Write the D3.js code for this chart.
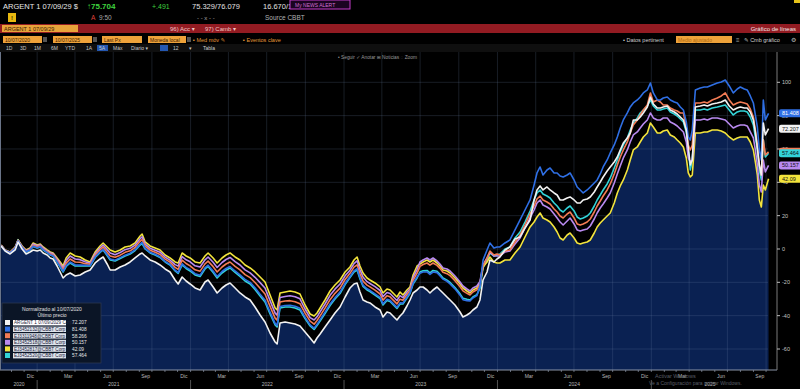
<!DOCTYPE html>
<html>
<head>
<meta charset="utf-8">
<script src="https://cdn.jsdelivr.net/npm/d3@7.9.0/dist/d3.min.js"></script>
<style>
  html, body { margin: 0; padding: 0; background: #000; }
  svg { display: block; font-family: "Liberation Sans", "DejaVu Sans", sans-serif; }
</style>
</head>
<body>
<svg id="chart" width="800" height="389"></svg>
<script>
// dates as decimal years (Oct 2020 -> Oct 2025)
const dates = [
  2020.766,2020.792,2020.824,2020.857,2020.876,2020.902,2020.928,2020.954,2020.974,2021.000,
  2021.020,2021.039,2021.065,2021.085,2021.104,2021.130,2021.150,2021.169,2021.189,2021.215,
  2021.248,2021.280,2021.313,2021.345,2021.378,2021.410,2021.430,2021.456,2021.476,2021.508,
  2021.541,2021.573,2021.606,2021.638,2021.671,2021.684,2021.704,2021.736,2021.769,2021.801,
  2021.834,2021.866,2021.899,2021.919,2021.945,2021.971,2021.997,2022.029,2022.062,2022.094,
  2022.114,2022.147,2022.173,2022.205,2022.231,2022.257,2022.290,2022.322,2022.355,2022.388,
  2022.420,2022.453,2022.485,2022.518,2022.551,2022.564,2022.583,2022.616,2022.648,2022.681,
  2022.713,2022.746,2022.779,2022.805,2022.824,2022.844,2022.876,2022.909,2022.941,2022.974,
  2023.007,2023.039,2023.065,2023.085,2023.104,2023.124,2023.150,2023.169,2023.202,2023.235,
  2023.254,2023.280,2023.300,2023.332,2023.345,2023.365,2023.384,2023.410,2023.430,2023.450,
  2023.476,2023.495,2023.515,2023.541,2023.560,2023.580,2023.606,2023.625,2023.645,2023.671,
  2023.691,2023.723,2023.756,2023.775,2023.801,2023.821,2023.840,2023.866,2023.886,2023.906,
  2023.932,2023.951,2023.977,2023.997,2024.016,2024.049,2024.081,2024.114,2024.147,2024.179,
  2024.212,2024.238,2024.257,2024.277,2024.296,2024.322,2024.342,2024.368,2024.388,2024.407,
  2024.427,2024.453,2024.472,2024.498,2024.518,2024.538,2024.557,2024.583,2024.603,2024.629,
  2024.648,2024.668,2024.687,2024.713,2024.733,2024.759,2024.779,2024.798,2024.818,2024.844,
  2024.863,2024.883,2024.909,2024.928,2024.948,2024.974,2024.994,2025.013,2025.039,2025.059,
  2025.078,2025.104,2025.124,2025.150,2025.169,2025.189,2025.209,2025.228,2025.241,2025.254,
  2025.267,2025.287,2025.319,2025.345,2025.365,2025.397,2025.430,2025.456,2025.482,2025.508,
  2025.534,2025.560,2025.580,2025.606,2025.625,2025.645,2025.665,2025.678,2025.691,2025.704,
  2025.717,2025.730,2025.743,2025.764
];

// normalized performance (%) per bond
const argent29 = [
  1.8,-1.2,-3.0,-0.6,4.2,0.0,-3.0,-1.8,-0.6,-1.2,
  -0.6,-2.4,-3.6,-5.4,-6.0,-10.2,-13.8,-17.4,-15.6,-14.4,
  -16.2,-15.6,-13.8,-12.6,-8.4,-6.0,-4.8,-9.0,-12.6,-12.6,
  -10.8,-9.6,-7.8,-5.4,-3.0,-2.4,-4.2,-6.6,-7.8,-9.6,
  -12.0,-13.8,-18.6,-21.0,-16.8,-19.2,-21.0,-23.4,-24.6,-19.8,
  -18.6,-22.8,-26.4,-23.4,-21.6,-20.4,-23.4,-26.4,-28.8,-30.6,
  -34.8,-39.6,-43.8,-50.4,-55.8,-57.0,-44.4,-43.8,-44.4,-45.0,
  -46.2,-49.8,-53.4,-56.4,-53.4,-51.0,-46.8,-42.6,-38.4,-34.8,
  -28.8,-23.4,-21.0,-20.4,-25.8,-30.6,-31.8,-32.4,-34.8,-36.6,
  -40.8,-37.8,-38.4,-41.4,-42.6,-40.2,-38.4,-34.2,-30.6,-26.4,
  -24.6,-22.8,-22.8,-24.6,-26.4,-24.6,-22.8,-24.6,-26.4,-28.8,
  -30.6,-33.6,-37.8,-40.8,-39.6,-38.4,-36.6,-34.8,-30.6,-18.6,
  -13.8,-6.6,-7.8,-6.0,-4.8,-0.6,1.2,6.0,7.2,12.6,
  17.4,29.4,35.4,37.8,35.4,37.2,35.4,33.6,32.4,29.4,
  29.4,30.6,31.2,29.4,27.6,27.6,29.4,30.0,31.2,34.2,
  37.2,40.2,43.2,46.8,49.2,52.2,55.2,59.4,63.6,66.6,
  69.6,77.4,77.4,79.2,81.6,85.2,91.2,87.0,84.6,84.6,
  85.2,85.8,83.4,82.2,81.0,79.2,77.4,71.4,60.6,50.4,
  53.4,85.2,85.8,86.4,85.8,87.0,87.6,88.2,89.4,85.8,
  83.4,84.6,85.2,84.6,84.6,82.2,77.4,70.2,60.6,50.4,
  44.4,75.6,68.4,72.207
];
const bondBlue = [
  2.0,-0.9,-2.3,0.4,4.8,1.0,-1.7,-0.5,1.7,0.8,
  1.4,-0.4,-2.0,-3.4,-4.0,-7.6,-10.5,-13.4,-10.0,-7.8,
  -9.6,-9.7,-9.8,-10.0,-4.8,-1.7,-0.2,-3.4,-6.0,-6.7,
  -5.2,-3.7,-2.5,-0.5,2.9,3.9,0.4,-2.0,-3.2,-4.7,
  -7.4,-9.2,-12.7,-14.1,-8.9,-11.0,-12.4,-14.8,-15.7,-11.2,
  -9.7,-13.2,-16.5,-13.5,-11.7,-10.5,-13.2,-15.5,-18.2,-20.0,
  -23.3,-27.1,-30.6,-37.9,-44.6,-45.8,-34.5,-33.9,-33.8,-34.4,
  -35.6,-40.9,-45.5,-47.5,-45.2,-42.4,-37.9,-33.0,-29.2,-25.9,
  -20.6,-16.5,-13.1,-11.8,-17.2,-21.7,-23.9,-24.8,-26.9,-29.0,
  -32.9,-30.2,-30.8,-33.8,-35.0,-32.3,-32.5,-28.9,-26.3,-20.5,
  -16.7,-14.5,-13.8,-13.8,-15.2,-13.8,-14.2,-16.0,-18.1,-19.4,
  -20.9,-23.9,-27.7,-30.4,-31.0,-31.2,-29.4,-28.0,-22.0,-6.6,
  -0.6,3.6,0.6,1.2,1.2,3.6,5.4,11.4,17.4,23.4,
  29.4,38.4,45.6,49.2,44.4,47.4,48.6,45.6,45.6,43.8,
  43.2,44.4,45.6,41.4,37.2,35.4,33.6,35.4,37.2,39.6,
  41.4,45.0,49.2,53.4,57.6,62.4,67.2,72.6,77.4,81.6,
  85.2,87.6,89.4,91.2,93.6,95.4,99.6,93.6,89.4,89.4,
  90.6,91.2,89.4,88.2,87.6,85.2,83.4,76.2,67.2,65.4,
  71.4,95.4,96.6,97.2,97.2,98.4,99.6,100.2,101.4,97.8,
  93.6,96.0,97.2,96.0,95.4,91.8,87.6,80.4,73.2,59.4,
  53.4,89.4,77.4,81.408
];
const bondOrange = [
  2.2,-0.8,-2.2,0.7,5.0,1.3,-1.3,-0.1,2.3,1.3,
  1.9,0.1,-1.5,-2.9,-3.5,-6.8,-9.6,-12.4,-8.5,-6.0,
  -7.8,-8.0,-8.8,-9.2,-3.8,-0.5,1.1,-1.9,-4.2,-5.0,
  -3.7,-2.0,-1.1,0.9,4.6,5.6,1.7,-0.7,-1.9,-3.3,
  -6.1,-7.9,-11.0,-12.2,-6.7,-8.7,-10.1,-12.5,-13.3,-8.9,
  -7.3,-10.6,-13.8,-10.8,-9.0,-7.8,-10.4,-12.5,-15.4,-17.2,
  -20.1,-23.6,-27.0,-34.4,-41.5,-42.7,-31.8,-31.2,-31.0,-31.6,
  -32.8,-38.5,-43.3,-45.1,-42.9,-40.1,-35.5,-30.4,-26.6,-23.5,
  -18.3,-14.6,-10.9,-9.5,-14.9,-19.3,-21.7,-22.7,-24.7,-27.0,
  -30.7,-28.1,-28.7,-31.7,-32.9,-30.1,-30.8,-27.5,-25.1,-18.8,
  -14.5,-10.4,-9.3,-8.4,-9.7,-8.4,-9.8,-11.6,-14.0,-14.8,
  -16.0,-19.0,-22.7,-25.1,-26.6,-27.6,-25.8,-24.5,-21.4,-10.2,
  -5.4,-1.2,-3.6,-3.0,-3.6,-1.2,-0.6,4.2,8.4,14.4,
  21.0,25.8,30.0,31.8,29.4,28.2,27.0,24.0,22.2,19.8,
  18.6,21.0,22.2,18.6,15.0,14.4,15.0,16.2,18.0,22.2,
  25.8,28.8,31.8,35.4,39.0,45.0,50.4,55.2,59.4,64.2,
  69.6,74.4,77.4,80.4,83.4,86.4,93.6,88.2,89.4,88.2,
  86.4,86.4,84.6,83.4,82.8,81.6,81.6,72.6,62.4,59.4,
  62.4,87.6,87.6,88.2,87.6,89.4,90.6,91.8,93.6,89.4,
  86.4,87.6,88.2,87.6,87.0,84.0,79.2,71.4,62.4,50.4,
  44.4,65.4,56.4,58.266
];
const bondLilac = [
  2.3,-0.7,-2.0,0.9,5.2,1.5,-1.0,0.2,3.0,1.9,
  2.5,0.7,-1.1,-2.3,-2.9,-6.1,-8.7,-11.3,-6.9,-4.2,
  -6.0,-6.4,-7.7,-8.5,-2.8,0.6,2.3,-0.3,-2.4,-3.4,
  -2.1,-0.4,0.4,2.3,6.2,7.3,2.9,0.5,-0.7,-1.9,
  -4.9,-6.7,-9.4,-10.3,-4.6,-6.5,-7.7,-10.1,-10.8,-6.5,
  -4.8,-8.0,-11.1,-8.1,-6.3,-5.1,-7.6,-9.6,-12.5,-14.3,
  -17.0,-20.2,-23.4,-31.0,-38.5,-39.7,-29.1,-28.5,-28.1,-28.7,
  -29.9,-36.0,-41.2,-42.6,-40.7,-37.7,-33.0,-27.8,-24.1,-21.0,
  -16.1,-12.7,-8.8,-7.1,-12.5,-16.8,-19.6,-20.7,-22.6,-24.9,
  -28.6,-26.1,-26.7,-29.7,-30.9,-28.0,-29.2,-26.0,-24.0,-17.2,
  -12.4,-7.8,-6.6,-5.4,-6.6,-5.4,-7.2,-9.0,-11.4,-12.0,
  -13.2,-16.2,-19.8,-22.2,-24.0,-25.2,-23.4,-22.2,-19.4,-9.6,
  -5.4,-1.8,-4.2,-4.2,-4.2,-1.8,-1.2,3.0,6.6,12.6,
  18.6,23.4,27.6,29.4,26.4,25.2,24.0,21.0,18.6,16.2,
  14.4,16.8,18.6,15.0,11.4,10.8,11.4,12.0,13.8,18.0,
  21.6,24.6,27.0,30.6,33.6,39.6,45.0,49.8,54.6,59.4,
  64.2,68.4,70.2,72.6,75.0,77.4,81.6,78.6,77.4,77.4,
  78.6,78.6,76.2,75.0,73.8,72.0,70.2,64.2,54.6,52.2,
  53.4,77.4,77.4,78.0,77.4,78.6,78.6,78.0,77.4,75.0,
  72.6,73.8,74.4,74.4,73.8,70.2,66.6,59.4,50.4,38.4,
  34.2,53.4,46.2,50.157
];
const bondYellow = [
  2.4,-0.6,-1.8,1.2,5.4,1.8,-0.6,0.6,3.6,2.4,
  3.0,1.2,-0.6,-1.8,-2.4,-5.4,-7.8,-10.2,-5.4,-2.4,
  -4.2,-4.8,-6.6,-7.8,-1.8,1.8,3.6,1.2,-0.6,-1.8,
  -0.6,1.2,1.8,3.6,7.8,9.0,4.2,1.8,0.6,-0.6,
  -3.6,-5.4,-7.8,-8.4,-2.4,-4.2,-5.4,-7.8,-8.4,-4.2,
  -2.4,-5.4,-8.4,-5.4,-3.6,-2.4,-4.8,-6.6,-9.6,-11.4,
  -13.8,-16.8,-19.8,-27.6,-35.4,-36.6,-26.4,-25.8,-25.2,-25.8,
  -27.0,-33.6,-39.0,-40.2,-38.4,-35.4,-30.6,-25.2,-21.6,-18.6,
  -13.8,-10.8,-6.6,-4.8,-10.2,-14.4,-17.4,-18.6,-20.4,-22.8,
  -26.4,-24.0,-24.6,-27.6,-28.8,-25.8,-27.6,-24.6,-22.8,-15.6,
  -10.2,-9.0,-7.8,-6.6,-7.8,-6.6,-8.4,-10.2,-12.6,-13.2,
  -14.4,-17.4,-21.0,-23.4,-25.2,-26.4,-24.6,-23.4,-20.4,-10.8,
  -7.8,-4.8,-7.8,-8.4,-8.4,-6.6,-6.6,-2.4,1.2,7.2,
  13.2,16.2,19.2,21.6,18.6,17.4,16.2,13.2,10.2,6.6,
  5.4,8.4,9.6,6.6,3.6,3.0,3.6,4.2,5.4,9.6,
  13.2,15.6,17.4,19.8,21.6,27.6,33.6,37.8,41.4,47.4,
  53.4,59.4,61.2,64.2,67.2,69.6,75.6,73.2,69.6,69.6,
  70.8,71.4,68.4,67.2,65.4,63.6,61.2,54.6,45.6,43.2,
  44.4,69.6,69.6,70.2,70.2,71.4,71.4,70.8,69.6,67.2,
  65.4,66.6,67.2,67.2,67.2,64.2,59.4,52.2,44.4,29.4,
  25.2,38.4,35.4,42.09
];
const bondCyan = [
  2.1,-0.9,-2.4,0.3,5.6,0.9,-1.8,-0.6,1.5,0.6,
  1.2,-0.6,-2.1,-3.6,-4.2,-7.8,-10.8,-13.8,-10.5,-8.4,
  -10.2,-10.2,-10.2,-10.2,-5.1,-2.1,-0.6,-3.9,-6.6,-7.2,
  -5.7,-4.2,-3.0,-0.9,2.4,3.3,0.0,-2.4,-3.6,-5.1,
  -7.8,-9.6,-13.2,-14.7,-9.6,-11.7,-13.2,-15.6,-16.5,-12.0,
  -10.5,-14.1,-17.4,-14.4,-12.6,-11.4,-14.1,-16.5,-19.2,-21.0,
  -24.3,-28.2,-31.8,-39.0,-45.6,-46.8,-35.4,-34.8,-34.8,-35.4,
  -36.6,-41.7,-46.2,-48.3,-45.9,-43.2,-38.7,-33.9,-30.0,-26.7,
  -21.3,-17.1,-13.8,-12.6,-18.0,-22.5,-24.6,-25.5,-27.6,-29.7,
  -33.6,-30.9,-31.5,-34.5,-35.7,-33.0,-33.0,-29.4,-26.7,-21.0,
  -17.4,-13.8,-13.1,-12.9,-14.3,-12.9,-13.4,-15.2,-17.4,-18.7,
  -20.1,-23.1,-26.9,-29.5,-30.2,-30.6,-28.8,-27.4,-23.5,-11.4,
  -6.6,-2.4,-4.2,-3.6,-3.0,0.0,1.2,6.6,10.2,16.2,
  22.8,29.4,33.6,35.4,33.0,31.8,30.6,27.6,25.8,23.4,
  22.2,24.6,25.8,22.8,19.2,18.0,18.6,19.8,21.6,25.8,
  29.4,32.4,35.4,39.0,42.6,48.6,53.4,58.2,62.4,66.6,
  71.4,75.6,78.6,81.6,83.4,85.8,89.4,85.8,83.4,83.4,
  84.0,84.6,82.2,81.0,79.8,78.0,76.2,70.2,59.4,47.4,
  53.4,83.4,83.4,84.0,83.4,84.6,85.2,85.8,86.4,83.4,
  80.4,82.2,82.8,82.8,82.2,79.2,74.4,67.2,59.4,47.4,
  41.4,65.4,55.2,57.464
];

// legend rows (same order as the Bloomberg legend)
const seriesNames = [
  "ARGENT 1 07/09/2029 Corp",
  "EJ3452132@CBBT Corp",
  "EJ3311948@CBBT Corp",
  "EJ3452518@CBBT Corp",
  "EJ3452817@CBBT Corp",
  "EJ3452520@CBBT Corp"
];
const lastLabels = ["72.207", "81.408", "58.266", "50.157", "42.09", "57.464"];
const seriesColors = ["#f2f2f2", "#2f6fe4", "#f47c55", "#b98af0", "#f3e43c", "#33d4d8"];
const seriesValues = [argent29, bondBlue, bondOrange, bondLilac, bondYellow, bondCyan];

const yTicks = [-60, -40, -20, 0, 20, 40, 60, 80, 100];
const monthNames = ["Ene","Feb","Mar","Abr","May","Jun","Jul","Ago","Sep","Oct","Nov","Dic"];

function yearToDate(t) {
  const yr = Math.floor(t);
  const a = new Date(yr, 0, 1), b = new Date(yr + 1, 0, 1);
  return new Date(+a + (t - yr) * (b - a));
}

const svg = d3.select("#chart");
const W = 800, H = 389;
const plotTop = 52, plotBottom = 370;

const x = d3.scaleTime()
  .domain([new Date(2020, 9, 7), new Date(2025, 9, 7)])
  .range([1, 768.6]);
const y = d3.scaleLinear().domain([-60, 100]).range([349, 82.3]);

const series = seriesNames.map((name, i) => ({
  name, color: seriesColors[i], label: lastLabels[i],
  points: dates.map((t, j) => ({ date: yearToDate(t), value: seriesValues[i][j] }))
}));

svg.append("rect").attr("width", W).attr("height", H).attr("fill", "#000");

// helpers for the terminal header
function txt(px, py, s, o = {}) {
  return svg.append("text").attr("x", px).attr("y", py).text(s)
    .attr("font-size", o.size || 7)
    .attr("fill", o.fill || "#d8d8d8")
    .attr("text-anchor", o.anchor || "start")
    .attr("font-weight", o.weight || "normal");
}
function box(px, py, w, h, fill, stroke) {
  return svg.append("rect").attr("x", px).attr("y", py).attr("width", w).attr("height", h)
    .attr("fill", fill).attr("stroke", stroke || "none");
}

// row 1 - quote line
txt(3, 9, "ARGENT 1 07/09/29 $", { size: 7.5, fill: "#e8e8e8" });
txt(87, 9, "\u219175.704", { size: 8, fill: "#3fd33f", weight: "bold" });
txt(152, 9, "+.491", { size: 7, fill: "#3fd33f" });
txt(192, 9, "75.329/76.079", { size: 7.5, fill: "#e0e0e0" });
txt(263, 9, "16.670/16.673", { size: 7.5, fill: "#e0e0e0" });
box(290, 0, 60, 9, "#1a0420", "#c23cc8");
txt(295, 7, "My NEWS ALERT", { size: 5, fill: "#d070d0" });
box(794, 0, 6, 3, "#e6c31a");

// row 2
box(8, 13, 8, 9, "#e8b810");
txt(12, 20, "!", { size: 6, fill: "#402800", anchor: "middle", weight: "bold" });
txt(91, 20, "A", { size: 6.5, fill: "#e0403a" });
txt(99, 20, "9:50", { size: 6.5, fill: "#a8a8a8" });
txt(197, 20, "- -   x   - -", { size: 6, fill: "#a8a8a8" });
txt(265, 20, "Source CBBT", { size: 6.5, fill: "#b0b0b0" });

// row 3 - red bar
box(0, 24, 800, 9, "#921b22");
box(2, 25, 76, 7, "#e8a33a");
txt(4, 31, "ARGENT 1 07/09/29", { size: 5.5, fill: "#3a1a00" });
txt(170, 31, "96) Acc \u25BE", { size: 6, fill: "#f3c6c6" });
txt(205, 31, "97) Camb \u25BE", { size: 6, fill: "#f3c6c6" });
txt(796, 31, "Gr\u00e1fico de l\u00edneas", { size: 6, fill: "#f0e6e6", anchor: "end" });

// row 4 - settings
const fieldBoxes = [[3, 39, "10/07/2020"], [53, 39, "10/07/2025"], [102, 40, "Last Px"], [148, 38, "Moneda local"]];
fieldBoxes.forEach(([bx, bw, s]) => {
  box(bx, 36, bw, 7, "#eea23a");
  txt(bx + 2, 42, s, { size: 5, fill: "#3a1a00" });
});
[43, 93, 187].forEach(bx => box(bx, 37, 4, 5, "#555"));
txt(193, 42, "\u25AA Med m\u00f3v \u270E", { size: 5.5, fill: "#e59a3a" });
txt(243, 42, "\u25AA Eventos clave", { size: 5.5, fill: "#e59a3a" });
txt(623, 42, "\u2022 Datos pertinent", { size: 5.5, fill: "#cfcfcf" });
box(676, 36, 56, 7, "#eea23a");
txt(678, 42, "Medio ajustado", { size: 5, fill: "#b06a10" });
txt(736, 42, "\u2261", { size: 6, fill: "#aaa" });
txt(744, 42, "\u270E Cmb gr\u00e1fico", { size: 5.5, fill: "#d0d0d0" });
txt(791, 42, "\u2699", { size: 6, fill: "#bbb" });

// row 5 - range buttons
box(0, 44, 800, 8, "#0f0f0f");
const ranges = [[6, "1D"], [20, "3D"], [34, "1M"], [51, "6M"], [65, "YTD"], [86, "1A"], [99, "5A"], [113, "M\u00e1x"], [131, "Diario \u25BE"]];
box(97, 45, 11, 6, "#2457b0");
ranges.forEach(([rx, s]) => txt(rx, 50, s, { size: 5, fill: "#c8c8c8" }));
box(160, 45, 8, 6, "#2457b0");
txt(173, 50, "12", { size: 5, fill: "#c8c8c8" });
txt(189, 50, "\u25BE", { size: 5, fill: "#c8c8c8" });
txt(203, 50, "Tabla", { size: 5, fill: "#d0d0d0" });

// area under the lowest line
const minPoints = dates.map((t, j) => ({
  date: yearToDate(t),
  value: d3.min(seriesValues, arr => arr[j])
}));
svg.append("path")
  .datum(minPoints)
  .attr("fill", "#0a2152")
  .attr("d", d3.area().x(d => x(d.date)).y0(plotBottom).y1(d => y(d.value)));

// grid
const grid = svg.append("g").attr("stroke", "#6f82a8").attr("stroke-opacity", 0.28).attr("stroke-width", 0.8);
yTicks.forEach(v => grid.append("line").attr("x1", 0).attr("x2", 768).attr("y1", y(v)).attr("y2", y(v)));
x.ticks(d3.timeMonth.every(3)).forEach(d =>
  grid.append("line").attr("x1", x(d)).attr("x2", x(d)).attr("y1", plotTop).attr("y2", plotBottom));

// toolbar inside chart
txt(338, 59, "\u2022 Seguir   \u2713 Anotar   \u229E Noticias   \u25CC Zoom", { size: 4.8, fill: "#9a9a9a" });

// lines, first series on top
const line = d3.line().x(d => x(d.date)).y(d => y(d.value));
series.slice().reverse().forEach(s => {
  svg.append("path").datum(s.points)
    .attr("fill", "none").attr("stroke", s.color)
    .attr("stroke-width", 1.6).attr("stroke-linejoin", "round")
    .attr("d", line);
});

// axes frame
svg.append("line").attr("x1", 0).attr("x2", 777).attr("y1", plotBottom).attr("y2", plotBottom)
  .attr("stroke", "#8a94a6").attr("stroke-width", 1);
svg.append("line").attr("x1", 777).attr("x2", 777).attr("y1", plotTop).attr("y2", plotBottom)
  .attr("stroke", "#7a7a7a").attr("stroke-width", 1);
svg.append("line").attr("x1", 0.5).attr("x2", 0.5).attr("y1", plotTop).attr("y2", plotBottom)
  .attr("stroke", "#6a7488").attr("stroke-width", 1);

// right axis
yTicks.forEach(v => {
  svg.append("line").attr("x1", 777).attr("x2", 780).attr("y1", y(v)).attr("y2", y(v)).attr("stroke", "#bbb");
  txt(782, y(v) + 2, v, { size: 5.5, fill: "#c4c4c4" });
});

// value tags at the right edge
[2, 5, 1, 0, 3, 4].forEach(i => {
  const s = series[i];
  const ty = y(s.points[s.points.length - 1].value);
  svg.append("rect").attr("x", 779).attr("y", ty - 4).attr("width", 24).attr("height", 8)
    .attr("rx", 2).attr("fill", s.color);
  txt(782, ty + 2, s.label, { size: 5.5, fill: i === 1 ? "#fff" : "#111" });
});

// bottom axis
const axisStart = new Date(2020, 9, 7), axisEnd = new Date(2025, 9, 7);
d3.timeMonth.range(d3.timeMonth.ceil(axisStart), axisEnd).forEach(d => {
  svg.append("line").attr("x1", x(d)).attr("x2", x(d)).attr("y1", plotBottom).attr("y2", plotBottom + 2)
    .attr("stroke", "#8a94a6").attr("stroke-width", 0.7);
  if (d.getMonth() % 3 === 2) {
    txt(x(d3.timeDay.offset(d, 15)), 378, monthNames[d.getMonth()], { size: 5, fill: "#b8b8b8", anchor: "middle" });
  }
});
d3.range(2020, 2026).forEach(yr => {
  const a = new Date(Math.max(+new Date(yr, 0, 1), +axisStart));
  const b = new Date(Math.min(+new Date(yr + 1, 0, 1), +axisEnd));
  txt((x(a) + x(b)) / 2, 386, yr, { size: 5, fill: "#b8b8b8", anchor: "middle" });
  if (yr > 2020) {
    svg.append("line").attr("x1", x(a)).attr("x2", x(a)).attr("y1", 380).attr("y2", 389)
      .attr("stroke", "#777").attr("stroke-width", 0.7);
  }
});

// windows watermark
txt(655, 378, "Activar Windows", { size: 5.5, fill: "#5a5f68" });
txt(649, 385, "Ve a Configuraci\u00f3n para activar Windows.", { size: 5, fill: "#5a5f68" });

// legend panel
const lg = svg.append("g");
lg.append("rect").attr("x", 2).attr("y", 303).attr("width", 99).attr("height", 60)
  .attr("fill", "#0b1526").attr("stroke", "#2c3850").attr("stroke-width", 0.8);
lg.append("text").attr("x", 52).attr("y", 311).attr("text-anchor", "middle")
  .attr("font-size", 5).attr("fill", "#e0e0e0").text("Normalizado al 10/07/2020");
lg.append("text").attr("x", 52).attr("y", 317).attr("text-anchor", "middle")
  .attr("font-size", 5).attr("fill", "#e0e0e0").text("\u00daltimo precio");
series.forEach((s, i) => {
  const ry = 320 + i * 6.6;
  lg.append("rect").attr("x", 5).attr("y", ry).attr("width", 5).attr("height", 5).attr("fill", s.color);
  lg.append("rect").attr("x", 13).attr("y", ry).attr("width", 53).attr("height", 5.4)
    .attr("fill", i === 0 ? "#ffffff" : "#dde2ea");
  lg.append("text").attr("x", 14).attr("y", ry + 4.4).attr("font-size", 4.6)
    .attr("fill", "#1a2340").text(s.name);
  lg.append("text").attr("x", 72).attr("y", ry + 4.4).attr("font-size", 4.8)
    .attr("fill", "#e6e6e6").text(s.label);
});
</script>
</body>
</html>
